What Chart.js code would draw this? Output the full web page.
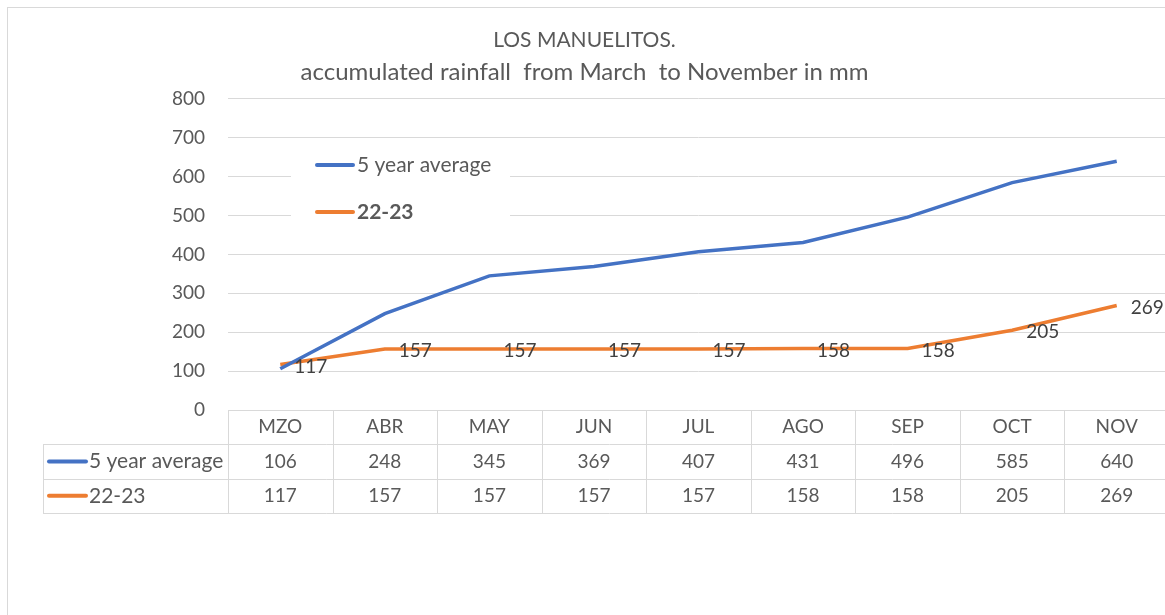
<!DOCTYPE html>
<html>
<head>
<meta charset="utf-8">
<script src="https://cdn.jsdelivr.net/npm/chart.js@4/dist/chart.umd.min.js"></script>
<style>
  html, body { margin: 0; padding: 0; background: #fff; overflow: hidden; }
  #wrap { position: absolute; left: 0; top: 0; width: 1175px; height: 615px; }
</style>
</head>
<body>
<div id="wrap"><canvas id="rain" width="1175" height="615"></canvas></div>
<script>
// chart data
const months = ['MZO', 'ABR', 'MAY', 'JUN', 'JUL', 'AGO', 'SEP', 'OCT', 'NOV'];
const avgName = '5 year average';
const avgValues = [106, 248, 345, 369, 407, 431, 496, 585, 640];
const seasonName = '22-23';
const seasonValues = [117, 157, 157, 157, 157, 158, 158, 205, 269];
const yTicks = [0, 100, 200, 300, 400, 500, 600, 700, 800];

const BLUE = '#4472C4';
const ORANGE = '#ED7D31';
const GRID = '#d9d9d9';
const TEXT = '#595959';
const FONT = 'Lato, "Open Sans", sans-serif';

// frame, in-plot legend, point labels and the data table below the plot
const excelExtras = {
    id: 'excelExtras',
    afterDraw(chart) {
        const ctx = chart.ctx;
        const area = chart.chartArea;
        const x = chart.scales.x;
        ctx.save();

        // outer frame
        ctx.strokeStyle = GRID;
        ctx.lineWidth = 1;
        ctx.strokeRect(7.5, 7.5, 2000, 2000);

        // legend box inside plot
        ctx.fillStyle = '#fff';
        ctx.fillRect(291, 145, 219, 88);
        const legendItems = [
            { name: avgName, color: BLUE, y: 165, bold: false },
            { name: seasonName, color: ORANGE, y: 212, bold: true }
        ];
        legendItems.forEach(item => {
            ctx.strokeStyle = item.color;
            ctx.lineWidth = 4;
            ctx.lineCap = 'round';
            ctx.beginPath();
            ctx.moveTo(317, item.y);
            ctx.lineTo(353, item.y);
            ctx.stroke();
            ctx.fillStyle = TEXT;
            ctx.font = (item.bold ? 'bold ' : '') + '21px ' + FONT;
            ctx.textAlign = 'left';
            ctx.textBaseline = 'middle';
            ctx.fillText(item.name, 357, item.y);
        });

        // labels for the 22-23 line, right of each point
        const meta = chart.getDatasetMeta(1);
        ctx.fillStyle = '#404040';
        ctx.font = '19px ' + FONT;
        ctx.textAlign = 'left';
        ctx.textBaseline = 'middle';
        meta.data.forEach((pt, i) => {
            ctx.fillText(String(seasonValues[i]), pt.x + 14, pt.y + 2);
        });

        // data table
        const top = area.bottom;
        const rowH = 34.3;
        const tableLeft = 43;
        const colW = (area.right - area.left) / months.length;
        ctx.strokeStyle = GRID;
        ctx.lineWidth = 1;
        ctx.lineCap = 'butt';
        ctx.beginPath();
        for (let r = 1; r <= 3; r++) {
            const yy = Math.round(top + r * rowH) + 0.5;
            ctx.moveTo(tableLeft, yy);
            ctx.lineTo(area.right + 20, yy);
        }
        ctx.moveTo(tableLeft + 0.5, Math.round(top + rowH));
        ctx.lineTo(tableLeft + 0.5, Math.round(top + 3 * rowH));
        for (let c = 0; c <= months.length; c++) {
            const xx = Math.round(area.left + c * colW) + 0.5;
            ctx.moveTo(xx, top);
            ctx.lineTo(xx, Math.round(top + 3 * rowH));
        }
        ctx.stroke();

        ctx.fillStyle = TEXT;
        ctx.font = '19px ' + FONT;
        ctx.textAlign = 'center';
        ctx.textBaseline = 'middle';
        months.forEach((m, i) => {
            const cx = x.getPixelForValue(i);
            ctx.fillText(m, cx, top + rowH * 0.5);
            ctx.fillText(String(avgValues[i]), cx, top + rowH * 1.5);
            ctx.fillText(String(seasonValues[i]), cx, top + rowH * 2.5);
        });

        const rows = [
            { name: avgName, color: BLUE },
            { name: seasonName, color: ORANGE }
        ];
        ctx.font = '21px ' + FONT;
        rows.forEach((row, r) => {
            const cy = top + rowH * (1.5 + r);
            ctx.strokeStyle = row.color;
            ctx.lineWidth = 4;
            ctx.lineCap = 'round';
            ctx.beginPath();
            ctx.moveTo(49, cy);
            ctx.lineTo(86, cy);
            ctx.stroke();
            ctx.fillStyle = TEXT;
            ctx.textAlign = 'left';
            ctx.fillText(row.name, 89, cy);
        });

        ctx.restore();
    }
};

new Chart(document.getElementById('rain'), {
    type: 'line',
    data: {
        labels: months,
        datasets: [
            {
                label: avgName,
                data: avgValues,
                borderColor: BLUE,
                backgroundColor: BLUE,
                borderWidth: 3.5,
                pointRadius: 0,
                tension: 0
            },
            {
                label: seasonName,
                data: seasonValues,
                borderColor: ORANGE,
                backgroundColor: ORANGE,
                borderWidth: 3.5,
                pointRadius: 0,
                tension: 0
            }
        ]
    },
    options: {
        responsive: false,
        animation: false,
        layout: {
            padding: { left: 0, top: 24, right: 6, bottom: 205 }
        },
        plugins: {
            legend: { display: false },
            tooltip: { enabled: false },
            title: {
                display: true,
                text: 'LOS MANUELITOS.',
                color: TEXT,
                font: { family: FONT, size: 21, weight: 'normal', lineHeight: 1.5238 },
                padding: { top: 0, bottom: 0 }
            },
            subtitle: {
                display: true,
                text: 'accumulated rainfall  from March  to November in mm',
                color: TEXT,
                font: { family: FONT, size: 24, weight: 'normal', lineHeight: 1.3333 },
                padding: { top: 0, bottom: 11 }
            }
        },
        scales: {
            x: {
                type: 'category',
                offset: true,
                display: false
            },
            y: {
                min: 0,
                max: 800,
                afterBuildTicks: (scale) => {
                    scale.ticks = yTicks.map(v => ({ value: v }));
                },
                afterFit: (scale) => {
                    scale.width = 228;
                },
                border: { display: false },
                grid: { color: GRID, lineWidth: 1, drawTicks: false },
                ticks: {
                    color: TEXT,
                    padding: 23,
                    font: { family: FONT, size: 19 }
                }
            }
        }
    },
    plugins: [excelExtras]
});
</script>
</body>
</html>
